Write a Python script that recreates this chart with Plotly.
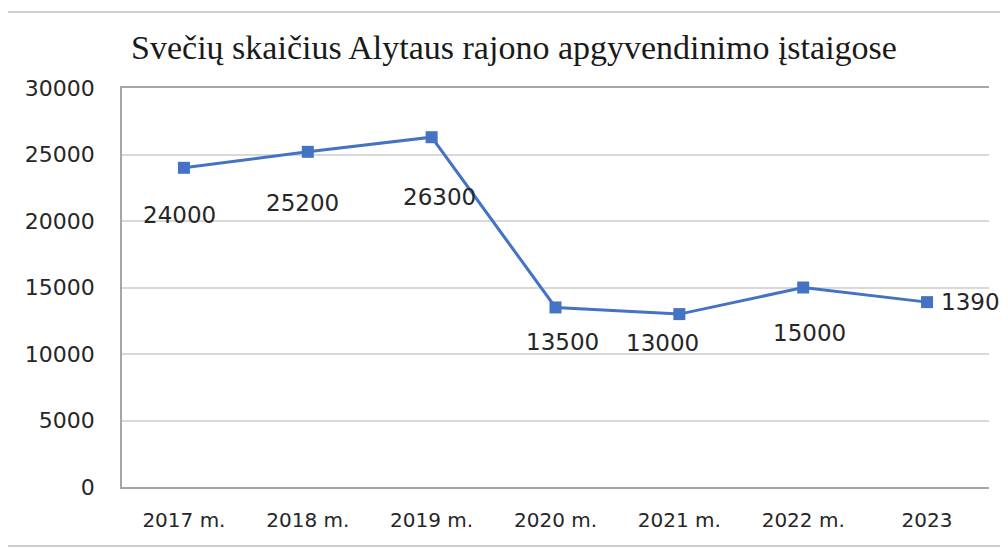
import plotly.graph_objects as go

categories = ["2017 m.", "2018 m.", "2019 m.", "2020 m.", "2021 m.", "2022 m.", "2023"]
guests = [24000, 25200, 26300, 13500, 13000, 15000, 13900]
y_ticks = [0, 5000, 10000, 15000, 20000, 25000, 30000]

# label placement (style only)
label_dx = [-4, -5, 8, 7, -17, 6, 50]
label_dy = [-47, -51, -60, -35, -29, -45, 0]

W, H = 1008, 548
OFF = 8  # page body margin
L, R, T, B = 122 - OFF, 19 + OFF, 88 - OFF, 61 + OFF

xpos = list(range(len(categories)))

fig = go.Figure()
fig.add_trace(go.Scatter(
    x=xpos, y=guests, mode="lines+markers",
    line=dict(color="#4472C4", width=3),
    marker=dict(symbol="square", size=12, color="#4472C4"),
    hoverinfo="y", showlegend=False, cliponaxis=False,
))

for xi, v, dx, dy in zip(xpos, guests, label_dx, label_dy):
    fig.add_annotation(x=xi, y=v, text=str(v), showarrow=False,
                       xshift=dx, yshift=dy,
                       font=dict(family="DejaVu Sans", size=23, color="#262626"))

# outer chart border
pw, ph = W - L - R, H - T - B
fig.add_shape(type="rect", xref="paper", yref="paper",
              x0=(7 - OFF - L) / pw, x1=(1020 - OFF - L) / pw,
              y0=1 - (546 - OFF - T) / ph, y1=1 - (12 - OFF - T) / ph,
              line=dict(color="#BFBFBF", width=1.5), layer="below")

fig.update_layout(
    width=W, height=H,
    margin=dict(l=L, r=R, t=T, b=B),
    paper_bgcolor="white", plot_bgcolor="white",
    title=dict(text="Svečių skaičius Alytaus rajono apgyvendinimo įstaigose",
               x=(514 - OFF) / W, xanchor="center", y=1 - (47 - OFF) / H, yanchor="middle",
               font=dict(family="Liberation Serif", size=34, color="#1a1a1a")),
    font=dict(family="DejaVu Sans", size=20, color="#262626"),
)
fig.update_xaxes(range=[-0.5, len(categories) - 0.5], tickvals=xpos, ticktext=categories,
                 showgrid=False, showline=True, linecolor="#A6A6A6",
                 linewidth=1.5, mirror=True, ticks="", ticklabelstandoff=14, zeroline=False,
                 tickfont=dict(family="DejaVu Sans", size=20, color="#262626"))
fig.update_yaxes(range=[0, 30000], tickvals=y_ticks, ticktext=[str(v) for v in y_ticks],
                 showgrid=True, gridcolor="#D9D9D9",
                 gridwidth=1.5, showline=True, linecolor="#A6A6A6", linewidth=1.5,
                 zeroline=False, ticks="", ticklabelstandoff=21,
                 tickfont=dict(family="DejaVu Sans", size=22, color="#262626"))
fig.write_html("out.html")
